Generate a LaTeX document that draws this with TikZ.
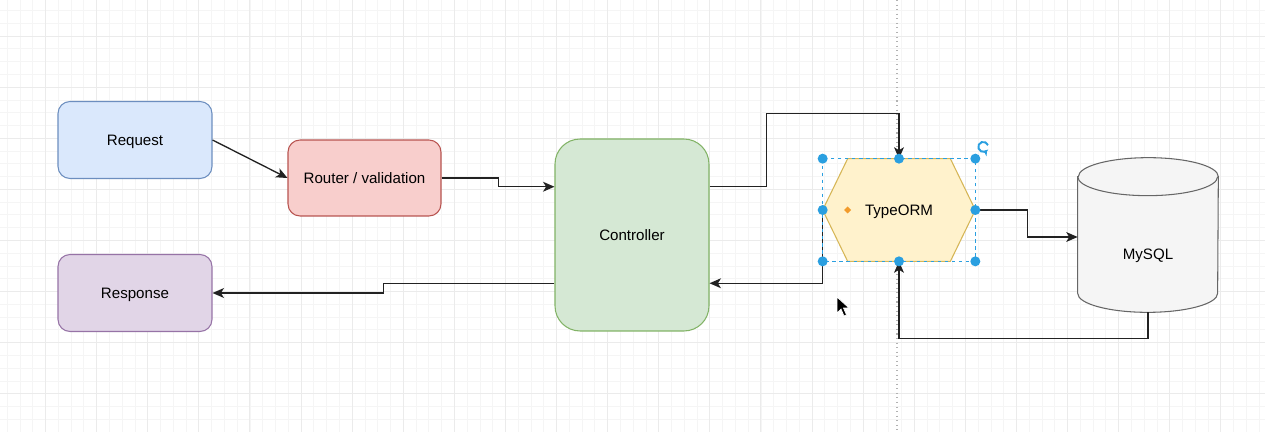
\documentclass[tikz,border=0pt]{standalone}
\usepackage{fontspec}
\setmainfont{Liberation Sans}
\usepackage{xcolor}
\usepackage{tikz}
\usetikzlibrary{arrows.meta}
\usetikzlibrary{calc}
\usetikzlibrary{backgrounds}

\definecolor{reqfill}{HTML}{DAE8FC}
\definecolor{reqline}{HTML}{6C8EBF}
\definecolor{rtrfill}{HTML}{F8CECC}
\definecolor{rtrline}{HTML}{B85450}
\definecolor{rspfill}{HTML}{E1D5E7}
\definecolor{rspline}{HTML}{9673A6}
\definecolor{ctlfill}{HTML}{D5E8D4}
\definecolor{ctlline}{HTML}{82B366}
\definecolor{ormfill}{HTML}{FFF2CC}
\definecolor{ormline}{HTML}{D6B656}
\definecolor{dbfill}{HTML}{F5F5F5}
\definecolor{dbline}{HTML}{666666}
\definecolor{selblue}{HTML}{2A9FE0}
\definecolor{wire}{HTML}{222222}
\definecolor{ormdot}{HTML}{F29B2C}

\begin{document}
\begin{tikzpicture}
[x=0.02cm,y=-0.02cm,
font=\fontsize{8.6}{10.3}\selectfont,
gridminor/.style={draw=black!4,line width=0.4pt},
gridmajor/.style={draw=black!8,line width=0.5pt},
guide/.style={draw=black!30,dotted,line width=0.6pt},
block/.style={rectangle,rounded corners=0.24cm,line width=0.6pt,minimum width=3.08cm,minimum height=1.54cm,inner sep=0pt,text depth=0pt},
reqbox/.style={block,draw=reqline,fill=reqfill},
rtrbox/.style={block,draw=rtrline,fill=rtrfill,minimum width=3.06cm,minimum height=1.52cm},
rspbox/.style={block,draw=rspline,fill=rspfill},
ctlbox/.style={block,draw=ctlline,fill=ctlfill,minimum height=3.84cm,rounded corners=0.5cm},
ormbox/.style={rectangle,minimum width=3.04cm,minimum height=2.04cm,inner sep=0pt,text depth=0pt},
dbbox/.style={rectangle,minimum width=2.8cm,minimum height=2.32cm,inner sep=0pt,text depth=0pt},
wireline/.style={draw=wire,line width=0.75pt,-{Stealth[length=6.5pt,width=5.6pt,inset=1.7pt]}},
handle/.style={circle,fill=selblue,inner sep=0pt,minimum size=0.2cm},
selbox/.style={draw=selblue,line width=0.6pt,dash pattern=on 2pt off 2pt}]
\useasboundingbox (0,0) rectangle (1265,432);

\node at (135,140)   [reqbox] (req) {Request};
\node at (364.5,178) [rtrbox] (rtr) {Router / validation};
\node at (135,293)   [rspbox] (rsp) {Response};
\node at (632,235)   [ctlbox] (ctl) {Controller};
\node at (899,210)   [ormbox] (orm) {TypeORM};
\node at (1148,254)  [dbbox]  (db)  {MySQL};

\coordinate (ctlin)   at ($(ctl.north west)!0.25!(ctl.south west)$);
\coordinate (ctlout)  at ($(ctl.north west)!0.75!(ctl.south west)$);
\coordinate (ctlup)   at ($(ctl.north east)!0.25!(ctl.south east)$);
\coordinate (ctlback) at ($(ctl.north east)!0.75!(ctl.south east)$);
\coordinate (dbin)    at ([yshift=0.34cm]db.west);

\begin{scope}[on background layer]
\fill[white] (0,0) rectangle (1265,432);
\begin{scope}
\clip (0,0) rectangle (1265,432);
\foreach \i in {-4,...,96}
  \draw[gridminor] ({45.5+\i*12.775},0) -- ({45.5+\i*12.775},432);
\foreach \j in {-3,...,31}
  \draw[gridminor] (0,{36+\j*12.775}) -- (1265,{36+\j*12.775});
\foreach \i in {-1,...,24}
  \draw[gridmajor] ({45.5+\i*51.1},0) -- ({45.5+\i*51.1},432);
\foreach \j in {-1,...,8}
  \draw[gridmajor] (0,{36+\j*51.1}) -- (1265,{36+\j*51.1});
\end{scope}
\draw[guide] (897,0) -- (897,432);
\filldraw[draw=ormline,fill=ormfill,line width=0.6pt]
  (orm.west) -- ([xshift=0.5cm]orm.north west) -- ([xshift=-0.5cm]orm.north east)
  -- (orm.east) -- ([xshift=-0.5cm]orm.south east) -- ([xshift=0.5cm]orm.south west) -- cycle;
\filldraw[draw=dbline,fill=dbfill,line width=0.6pt]
  ([yshift=0.38cm]db.north west) -- ([yshift=0.38cm]db.south west)
  arc[start angle=180,end angle=360,x radius=1.4cm,y radius=0.38cm]
  -- ([yshift=0.38cm]db.north east)
  arc[start angle=0,end angle=180,x radius=1.4cm,y radius=0.38cm] -- cycle;
\draw[draw=dbline,line width=0.6pt] ([yshift=0.38cm]db.north west)
  arc[start angle=180,end angle=360,x radius=1.4cm,y radius=0.38cm];
\end{scope}

\fill[ormdot] ([xshift=0.5cm]orm.west) ++(0,-3.5) -- ++(3.5,3.5) -- ++(-3.5,3.5) -- ++(-3.5,-3.5) -- cycle;

\draw [wireline] (req.east) -- (rtr.west);
\draw [wireline] (rtr.east) -- ++(57,0) |- (ctlin);
\draw [wireline] (ctlup) -- ++(57,0) -- ++(0,-73) -| (orm.north);
\draw [wireline] (orm.west) |- (ctlback);
\draw [wireline] (orm.east) -- ++(52,0) |- (dbin);
\draw [wireline] (db.south) -- ++(0,26) -| (orm.south);
\draw [wireline] (ctlout) -- ++(-171,0) |- (rsp.east);

\draw [selbox] (orm.north west) rectangle (orm.south east);
\foreach \a in {north west,north,north east,west,east,south west,south,south east}
  \node [handle] at (orm.\a) {};
\draw [draw=selblue,line width=1.1pt,-{Stealth[length=3pt,width=4pt]}]
  ([xshift=1.78cm,yshift=0.27cm]orm.north) arc[start angle=20,end angle=320,radius=0.1cm];

\filldraw[fill=black,draw=white,line width=0.4pt]
  (837,297) -- (837,313) -- (841,309) -- (844,316) -- (846.5,315) -- (843.5,308) -- (849,308) -- cycle;
\end{tikzpicture}
\end{document}
